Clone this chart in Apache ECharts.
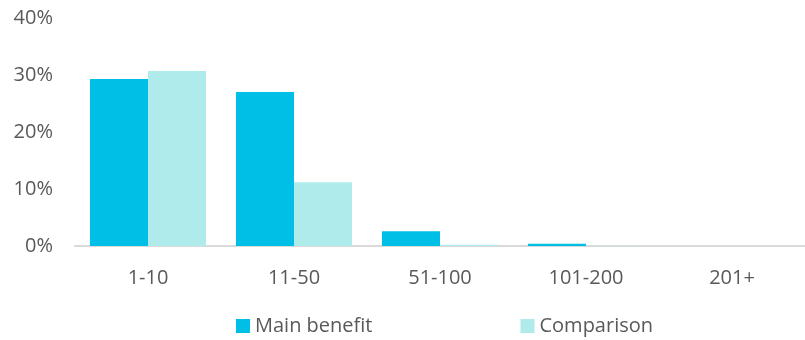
<!DOCTYPE html>
<html><head><meta charset="utf-8">
<script src="https://cdn.jsdelivr.net/npm/echarts@6/dist/echarts.min.js"></script>
<style>html,body{margin:0;padding:0;background:#fff}#c{width:805px;height:340px}</style>
</head><body><div id="c"></div>
<script>
const categories = ['1-10','11-50','51-100','101-200','201+'];
const mainBenefit = [29.3, 27.0, 2.6, 0.4, 0];
const comparison = [30.7, 11.2, 0.2, 0.03, 0];
const yTicks = [0, 10, 20, 30, 40];

const chart = echarts.init(document.getElementById('c'));
chart.setOption({
  animation: false,
  textStyle: {fontFamily: 'Open Sans'},
  grid: {left: 75, right: 0, top: 18, bottom: 94},
  legend: {
    top: 316, left: 236, itemGap: 148, padding: 0,
    itemWidth: 14, itemHeight: 14, icon: 'rect',
    textStyle: {color: '#595959', fontSize: 20, fontFamily: 'Open Sans'},
    data: ['Main benefit', 'Comparison']
  },
  xAxis: {
    type: 'category', data: categories,
    axisLine: {lineStyle: {color: '#D9D9D9', width: 2}},
    axisTick: {show: false},
    axisLabel: {color: '#595959', fontSize: 20, margin: 22}
  },
  yAxis: {
    type: 'value', min: yTicks[0], max: yTicks[yTicks.length-1], interval: 10,
    splitLine: {show: false},
    axisLine: {show: false}, axisTick: {show: false},
    axisLabel: {color: '#595959', fontSize: 20, margin: 22, formatter: v => v + '%'}
  },
  series: [
    {name: 'Main benefit', type: 'bar', data: mainBenefit, barGap: '0%', barCategoryGap: '20.5%', itemStyle: {color: '#00BFE6'}},
    {name: 'Comparison', type: 'bar', data: comparison, barGap: '0%', barCategoryGap: '20.5%', itemStyle: {color: '#AFEBEB'}}
  ]
});
</script></body></html>
